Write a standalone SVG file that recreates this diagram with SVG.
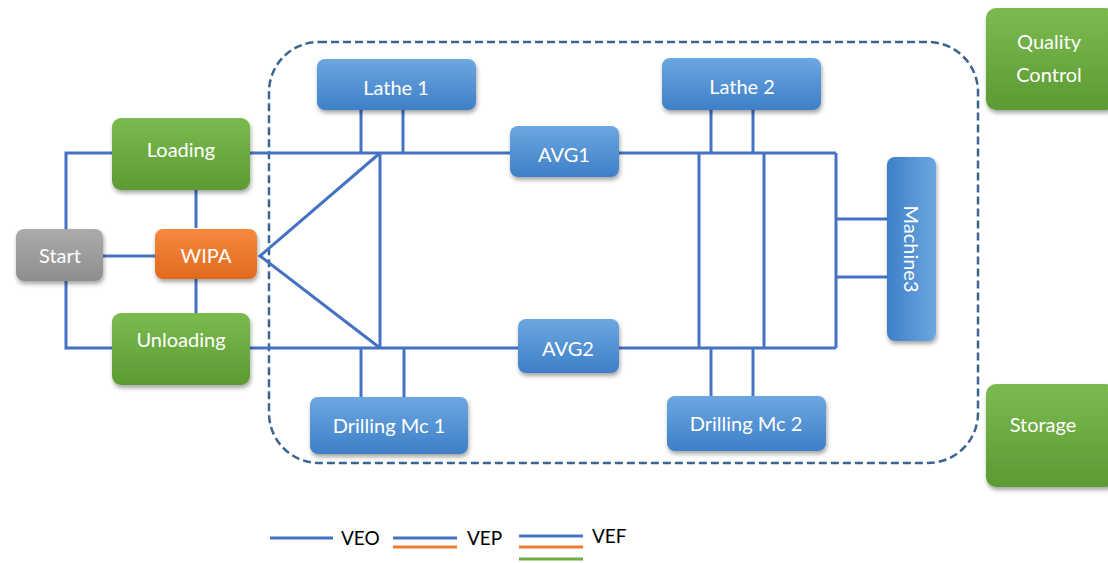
<svg xmlns="http://www.w3.org/2000/svg" width="1108" height="563" viewBox="0 0 1108 563">
<style>
.ln{stroke:#4472C4;stroke-width:3;fill:none}
.t{font-family:Lato,"Liberation Sans",sans-serif;font-size:20px;fill:#fff;text-anchor:middle}
.lg{font-family:Lato,"Liberation Sans",sans-serif;font-size:19px;fill:#000}
</style>
<defs>
<linearGradient id="gb" x1="0" y1="0" x2="0" y2="1"><stop offset="0" stop-color="#6CA7E0"/><stop offset="1" stop-color="#3E7FC7"/></linearGradient>
<linearGradient id="gbv" x1="1" y1="0" x2="0" y2="0"><stop offset="0" stop-color="#6CA7E0"/><stop offset="1" stop-color="#3E7FC7"/></linearGradient>
<linearGradient id="gg" x1="0" y1="0" x2="0" y2="1"><stop offset="0" stop-color="#7BBB4F"/><stop offset="1" stop-color="#5C9A33"/></linearGradient>
<linearGradient id="go" x1="0" y1="0" x2="0" y2="1"><stop offset="0" stop-color="#F58A3E"/><stop offset="1" stop-color="#E06A1E"/></linearGradient>
<linearGradient id="gy" x1="0" y1="0" x2="0" y2="1"><stop offset="0" stop-color="#ABABAB"/><stop offset="1" stop-color="#8E8E8E"/></linearGradient>
<filter id="sh" x="-20%" y="-20%" width="140%" height="150%"><feDropShadow dx="1" dy="3" stdDeviation="2" flood-color="#000" flood-opacity="0.35"/></filter>
</defs>

<rect id="boundary" x="269" y="42" width="709" height="421" rx="50" ry="50" fill="none" stroke="#3A6591" stroke-width="2.5" stroke-dasharray="8,4"/>

<g id="connectors" class="ln">
<polyline points="112,153 66,153 66,229"/>
<polyline points="66,281 66,348 112,348"/>
<line x1="103" y1="256" x2="155" y2="256"/>
<line x1="196" y1="190" x2="196" y2="228"/>
<line x1="196" y1="278" x2="196" y2="313"/>
<line x1="250" y1="153" x2="510" y2="153"/>
<line x1="619" y1="153" x2="836" y2="153"/>
<line x1="250" y1="348" x2="518" y2="348"/>
<line x1="619" y1="348" x2="836" y2="348"/>
<polyline points="380,153 260,256 380,348"/>
<line x1="380" y1="153" x2="380" y2="348"/>
<line x1="361" y1="110" x2="361" y2="153"/>
<line x1="403" y1="110" x2="403" y2="153"/>
<line x1="361" y1="348" x2="361" y2="397"/>
<line x1="404" y1="348" x2="404" y2="397"/>
<line x1="711" y1="110" x2="711" y2="153"/>
<line x1="753" y1="110" x2="753" y2="153"/>
<line x1="711" y1="348" x2="711" y2="396"/>
<line x1="753" y1="348" x2="753" y2="396"/>
<line x1="699" y1="153" x2="699" y2="348"/>
<line x1="764" y1="153" x2="764" y2="348"/>
<line x1="836" y1="153" x2="836" y2="348"/>
<line x1="836" y1="219" x2="887" y2="219"/>
<line x1="836" y1="277" x2="887" y2="277"/>
</g>

<g id="start"><rect x="16" y="229" width="87" height="52" rx="8" fill="url(#gy)" filter="url(#sh)"/><text class="t" x="60" y="263">Start</text></g>
<g id="loading"><rect x="112" y="118" width="138" height="72" rx="9" fill="url(#gg)" filter="url(#sh)"/><text class="t" x="181" y="157">Loading</text></g>
<g id="wipa"><rect x="155" y="229" width="102" height="50" rx="8" fill="url(#go)" filter="url(#sh)"/><text class="t" x="206" y="263">WIPA</text></g>
<g id="unloading"><rect x="112" y="313" width="138" height="72" rx="9" fill="url(#gg)" filter="url(#sh)"/><text class="t" x="181" y="347">Unloading</text></g>
<g id="lathe1"><rect x="317" y="59" width="159" height="51" rx="8" fill="url(#gb)" filter="url(#sh)"/><text class="t" x="396" y="95">Lathe 1</text></g>
<g id="avg1"><rect x="510" y="126" width="109" height="51" rx="8" fill="url(#gb)" filter="url(#sh)"/><text class="t" x="564" y="162">AVG1</text></g>
<g id="lathe2"><rect x="662" y="58" width="159" height="52" rx="8" fill="url(#gb)" filter="url(#sh)"/><text class="t" x="742" y="94">Lathe 2</text></g>
<g id="machine3"><rect x="887" y="157" width="49" height="184" rx="8" fill="url(#gbv)" filter="url(#sh)"/><text class="t" transform="translate(904,249) rotate(90)" x="0" y="0">Machine3</text></g>
<g id="avg2"><rect x="518" y="319" width="101" height="54" rx="8" fill="url(#gb)" filter="url(#sh)"/><text class="t" x="568" y="356">AVG2</text></g>
<g id="drilling1"><rect x="310" y="397" width="158" height="57" rx="8" fill="url(#gb)" filter="url(#sh)"/><text class="t" x="389" y="433">Drilling Mc 1</text></g>
<g id="drilling2"><rect x="667" y="396" width="159" height="55" rx="8" fill="url(#gb)" filter="url(#sh)"/><text class="t" x="746" y="431">Drilling Mc 2</text></g>
<g id="quality"><rect x="986" y="8" width="130" height="102" rx="10" fill="url(#gg)" filter="url(#sh)"/><text class="t" x="1049" y="49">Quality</text><text class="t" x="1049" y="82">Control</text></g>
<g id="storage"><rect x="986" y="384" width="130" height="103" rx="10" fill="url(#gg)" filter="url(#sh)"/><text class="t" x="1043" y="432">Storage</text></g>

<g id="legend">
<line x1="270" y1="538" x2="333" y2="538" stroke="#4472C4" stroke-width="3"/>
<text class="lg" x="341" y="545">VEO</text>
<line x1="393" y1="538" x2="457" y2="538" stroke="#4472C4" stroke-width="3"/>
<line x1="393" y1="547" x2="457" y2="547" stroke="#ED7D31" stroke-width="3"/>
<text class="lg" x="467" y="545">VEP</text>
<line x1="519" y1="536" x2="583" y2="536" stroke="#4472C4" stroke-width="3"/>
<line x1="519" y1="547" x2="583" y2="547" stroke="#ED7D31" stroke-width="3"/>
<line x1="519" y1="559" x2="583" y2="559" stroke="#70AD47" stroke-width="3"/>
<text class="lg" x="592" y="543">VEF</text>
</g>
</svg>
